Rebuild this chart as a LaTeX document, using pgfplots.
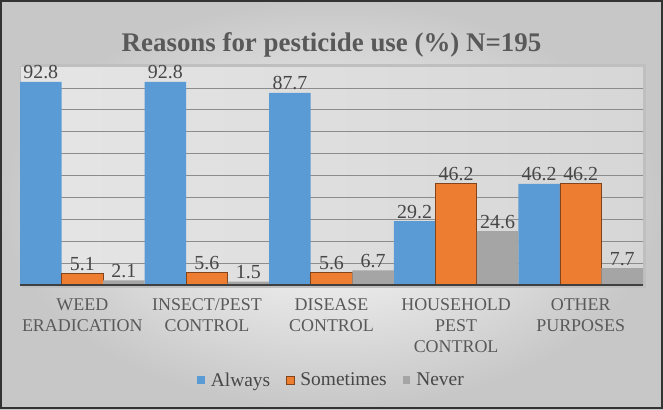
\documentclass[border=0pt]{standalone}
\usepackage{fontspec}
\setmainfont{Liberation Serif}
\usepackage{pgfplots}
\pgfplotsset{compat=1.18}
\usetikzlibrary{backgrounds}

\definecolor{cblue}{HTML}{5B9BD5}
\definecolor{corange}{HTML}{ED7D31}
\definecolor{cgray}{HTML}{A5A5A5}
\definecolor{txt}{HTML}{595959}

\pgfplotsset{
  sq legend/.style={legend image code/.code={
    \fill[##1] (0bp,-3.8bp) rectangle (7.6bp,3.8bp);}},
}

\begin{document}
\begin{tikzpicture}
\begin{axis}[
  scale only axis, width=623bp, height=219bp,
  ybar=0pt, bar width=0.3333,
  xmin=-0.5, xmax=4.5, ymin=0, ymax=100,
  xtick=data,
  xticklabels={{WEED\\ERADICATION},{INSECT/PEST\\CONTROL},{DISEASE\\CONTROL},{HOUSEHOLD\\PEST\\CONTROL},{OTHER\\PURPOSES}},
  x tick label style={align=center, font=\fontsize{18}{21}\selectfont, text=txt, yshift=-10.5bp},
  major tick length=0pt,
  ytick={0,10,...,100}, yticklabels={},
  ymajorgrids, grid style={black!45, line width=0.8bp},
  axis line style={draw=black!25},
  axis background/.style={shade, left color=black!10, middle color=white, right color=black!16},
  clip=false,
  nodes near coords,
  every node near coord/.append style={font=\fontsize{20}{22}\selectfont, text=black!72, inner sep=2.5bp},
  /pgf/number format/fixed, /pgf/number format/fixed zerofill,
  /pgf/number format/precision=1, /pgf/number format/assume math mode=true,
  legend style={at={(0.5,-0.434)}, anchor=center, draw=none, fill=none,
    font=\fontsize{19.5}{22}\selectfont, text=black!72,
    /tikz/every odd column/.append style={column sep=4bp},
    /tikz/every even column/.append style={column sep=14bp}},
  legend columns=-1,
]
\addplot[fill=cblue, draw=none, sq legend] coordinates {(0,92.8) (1,92.8) (2,87.7) (3,29.2) (4,46.2)};
\addplot[fill=corange, draw=corange!55!black, line width=0.8bp,
  legend image code/.code={\draw[fill=corange, draw=corange!55!black, line width=0.6bp] (0bp,-3.8bp) rectangle (7.6bp,3.8bp);}]
  coordinates {(0,5.1) (1,5.6) (2,5.6) (3,46.2) (4,46.2)};
\addplot[fill=cgray, draw=none, sq legend] coordinates {(0,2.1) (1,1.5) (2,6.7) (3,24.6) (4,7.7)};
\legend{Always, Sometimes, Never}
\draw[black!75, line width=2bp] (rel axis cs:0,0) -- (rel axis cs:1,0);
\coordinate (BL) at (rel axis cs:0,0);
\end{axis}
% chart area, placed relative to the plot area's lower left corner
\begin{scope}[on background layer, shift={(BL)}, x=1bp, y=1bp]
\shade[inner color=white, outer color=black!22] (-20,-124) rectangle (643,285);
\draw[black!80, line width=2bp] (-19,-123) rectangle (642,284);
\fill[black!25] (2,-3) rectangle (626,221);
\end{scope}
\begin{scope}[shift={(BL)}, x=1bp, y=1bp]
\node[anchor=base, font=\fontsize{27}{32}\selectfont\bfseries, text=txt]
  at (311.5,234) {Reasons for pesticide use (\%) N=195};
\end{scope}
\end{tikzpicture}
\end{document}
